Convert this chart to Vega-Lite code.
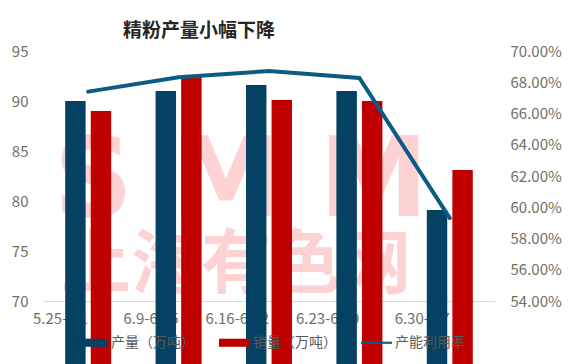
{
  "$schema": "https://vega.github.io/schema/vega-lite/v6.json",
  "autosize": {"type": "none"},
  "padding": {"left": 43, "top": 51, "right": 73, "bottom": 63},
  "width": 452,
  "height": 250,
  "background": "white",
  "config": {
    "font": "Noto Sans CJK SC",
    "view": {"stroke": null},
    "axis": {"grid": false, "ticks": false, "labelFont": "Noto Sans CJK SC", "labelColor": "#6f705f", "labelFontSize": 14, "title": null}
  },
  "title": {
    "text": "精粉产量小幅下降",
    "fontSize": 19,
    "fontWeight": "bold",
    "color": "#262626",
    "anchor": "middle",
    "dx": -70,
    "offset": 3,
    "font": "Noto Sans CJK SC"
  },
  "datasets": {
    "bars": [
      {"week": "5.25-6.1", "series": "产量（万吨）", "value": 90.0},
      {"week": "5.25-6.1", "series": "销量（万吨）", "value": 89.0},
      {"week": "6.9-6.15", "series": "产量（万吨）", "value": 91.0},
      {"week": "6.9-6.15", "series": "销量（万吨）", "value": 92.4},
      {"week": "6.16-6.22", "series": "产量（万吨）", "value": 91.6},
      {"week": "6.16-6.22", "series": "销量（万吨）", "value": 90.1},
      {"week": "6.23-6.29", "series": "产量（万吨）", "value": 91.0},
      {"week": "6.23-6.29", "series": "销量（万吨）", "value": 90.0},
      {"week": "6.30-7.7", "series": "产量（万吨）", "value": 79.1},
      {"week": "6.30-7.7", "series": "销量（万吨）", "value": 83.1}
    ],
    "rate": [
      {"week": "5.25-6.1", "series": "产能利用率", "rate": 0.674},
      {"week": "6.9-6.15", "series": "产能利用率", "rate": 0.6832},
      {"week": "6.16-6.22", "series": "产能利用率", "rate": 0.6872},
      {"week": "6.23-6.29", "series": "产能利用率", "rate": 0.6827},
      {"week": "6.30-7.7", "series": "产能利用率", "rate": 0.593}
    ],
    "wm": [
      {"week": "6.16-6.22", "text": "S M M", "y": 81.8},
      {"week": "6.16-6.22", "text": "上海有色网", "y": 73.4}
    ]
  },
  "layer": [
    {
      "layer": [
        {
          "data": {"name": "wm"},
          "transform": [{"filter": "datum.text === 'S M M'"}],
          "mark": {"type": "text", "font": "DejaVu Sans", "fontWeight": "bold", "fontSize": 110, "color": "#fcd2d2", "dx": -28, "baseline": "middle", "align": "center"},
          "encoding": {
            "x": {"field": "week", "type": "nominal"},
            "y": {"field": "y", "type": "quantitative", "scale": {"domain": [70, 95], "nice": false, "zero": false}},
            "text": {"field": "text"}
          }
        },
        {
          "data": {"name": "wm"},
          "transform": [{"filter": "datum.text !== 'S M M'"}],
          "mark": {"type": "text", "font": "Noto Sans CJK SC", "fontWeight": "bold", "fontSize": 70, "color": "#fcd2d2", "dx": -33, "baseline": "middle", "align": "center"},
          "encoding": {
            "x": {"field": "week", "type": "nominal"},
            "y": {"field": "y", "type": "quantitative", "scale": {"domain": [70, 95], "nice": false, "zero": false}},
            "text": {"field": "text"}
          }
        },
        {
          "data": {"name": "bars"},
          "mark": {"type": "bar"},
          "encoding": {
            "x": {
              "field": "week", "type": "nominal",
              "scale": {"domain": ["5.25-6.1", "6.9-6.15", "6.16-6.22", "6.23-6.29", "6.30-7.7"], "paddingInner": 0.491, "paddingOuter": 0.2455},
              "axis": {"labelAngle": 0, "domainColor": "#d9d9d9", "domainWidth": 1, "labelPadding": 17, "labelFontSize": 15}
            },
            "xOffset": {"field": "series", "type": "nominal", "sort": null, "scale": {"paddingInner": 0.2, "paddingOuter": 0}},
            "y": {
              "field": "value", "type": "quantitative",
              "scale": {"domain": [70, 95], "nice": false, "zero": false},
              "axis": {"values": [70, 75, 80, 85, 90, 95], "domain": false, "labelPadding": 15, "labelFontSize": 15}
            },
            "color": {
              "field": "series", "type": "nominal",
              "scale": {"domain": ["产量（万吨）", "销量（万吨）", "产能利用率"], "range": ["#044163", "#c00000", "#0b5b82"]},
              "legend": {
                "orient": "none",
                "legendX": 34,
                "legendY": 276,
                "padding": 0,
                "direction": "horizontal",
                "title": null,
                "labelFontSize": 14,
                "labelColor": "#595959",
                "labelFont": "Noto Sans CJK SC",
                "labelOffset": 3,
                "columnPadding": 24,
                "symbolSize": 961,
                "symbolType": "M-1,-0.26H1V0.26H-1Z",
                "encode": {
                  "symbols": {
                    "update": {
                      "shape": {"signal": "datum.value === '产能利用率' ? 'M-1,-0.07H1V0.07H-1Z' : 'M-1,-0.26H1V0.26H-1Z'"},
                      "fill": {"signal": "scale('color', datum.value)"},
                      "stroke": {"value": "transparent"},
                      "strokeWidth": {"value": 0},
                      "opacity": {"value": 1}
                    }
                  }
                }
              }
            }
          }
        }
      ]
    },
    {
      "data": {"name": "rate"},
      "mark": {"type": "line", "strokeWidth": 4, "strokeCap": "round"},
      "encoding": {
        "x": {"field": "week", "type": "nominal"},
        "y": {
          "field": "rate", "type": "quantitative",
          "scale": {"domain": [0.54, 0.70], "nice": false, "zero": false},
          "axis": {"orient": "right", "values": [0.54, 0.56, 0.58, 0.60, 0.62, 0.64, 0.66, 0.68, 0.70], "format": ".2%", "domain": false, "labelPadding": 15, "labelFontSize": 15}
        },
        "color": {"field": "series", "type": "nominal"}
      }
    }
  ],
  "resolve": {"scale": {"y": "independent"}}
}
